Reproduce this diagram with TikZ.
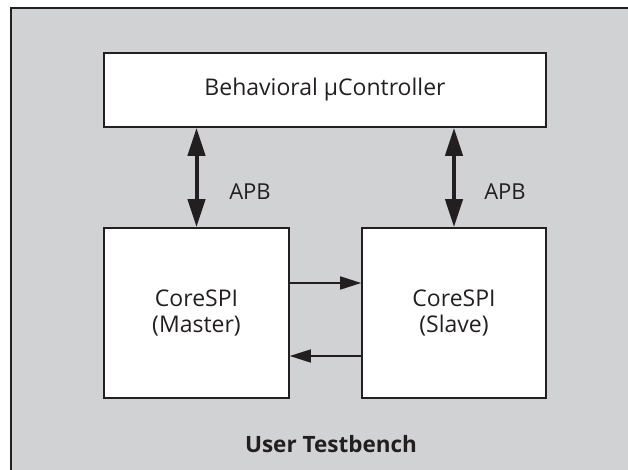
\documentclass[tikz,border=0pt]{standalone}
\usepackage{fontspec}
\setmainfont{Open Sans}
\usetikzlibrary{arrows.meta}
\definecolor{bggray}{HTML}{D1D2D4}
\definecolor{ink}{HTML}{231F20}
\tikzset{
  blockbox/.style={draw=ink, line width=1.6pt, fill=white, text=ink, align=center, inner sep=0pt, font=\fontsize{23}{26}\selectfont},
  busarrow/.style={draw=ink, line width=4pt, {Triangle[length=28pt,width=17pt]}-{Triangle[length=28pt,width=17pt]}},
  sigarrow/.style={draw=ink, line width=1.6pt, -{Triangle[length=21pt,width=13pt]}},
  lbl/.style={text=ink, inner sep=0pt, font=\fontsize{22}{26}\selectfont}
}
\begin{document}
\begin{tikzpicture}[x=1pt,y=-1pt]
\clip (0,0) rectangle (628,470);
\draw[ink, line width=2pt, fill=bggray] (11,8) rectangle (650,490);
\node[blockbox, minimum width=442pt, minimum height=74pt] (mc) at (325,90) {Behavioral µController};
\node[blockbox, minimum width=185pt, minimum height=170pt] (master) at (196.5,313) {CoreSPI\\(Master)};
\node[blockbox, minimum width=184pt, minimum height=170pt] (slave) at (454,313) {CoreSPI\\(Slave)};
\draw[busarrow] (mc.south -| master.center) -- (master.north);
\draw[busarrow] (mc.south -| slave.center) -- (slave.north);
\node[lbl] (apb1) at (250,192) {APB};
\node[lbl] (apb2) at (505,192) {APB};
\coordinate (m1) at (master.east |- 0,283);
\coordinate (s1) at (slave.west |- 0,283);
\coordinate (m2) at (master.east |- 0,356);
\coordinate (s2) at (slave.west |- 0,356);
\draw[sigarrow] (m1) -- (s1);
\draw[sigarrow] (s2) -- (m2);
\node[lbl, font=\fontsize{22.5}{26}\selectfont\bfseries] (ut) at (331,444) {User Testbench};
\end{tikzpicture}
\end{document}
